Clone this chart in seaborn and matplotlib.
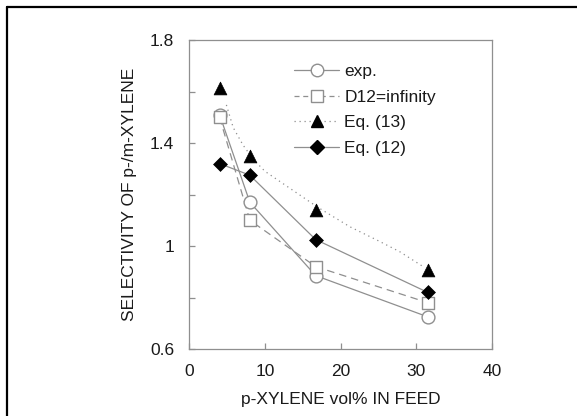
import matplotlib
matplotlib.use("Agg")
import matplotlib.pyplot as plt
from matplotlib.lines import Line2D
import seaborn as sns
import pandas as pd

# p-xylene content of the feed (vol%)
feed_pct = [4.0, 8.0, 16.7, 31.5]

# selectivity of p-/m-xylene
sel_exp = [1.51, 1.17, 0.885, 0.725]
sel_d12_inf = [1.50, 1.10, 0.92, 0.78]
sel_eq13 = [1.615, 1.35, 1.14, 0.905]
sel_eq12 = [1.32, 1.275, 1.025, 0.82]

# smooth Eq. (13) curve
eq13_curve_x = [4.9, 5.8, 7.1, 8.5, 10.0, 13.3, 17.0, 21.2, 25.0, 27.8, 30.9]
eq13_curve_y = [1.548, 1.46, 1.392, 1.335, 1.29, 1.224, 1.15, 1.075, 1.02, 0.978, 0.92]

x_ticks = [0, 10, 20, 30, 40]
y_major = [0.6, 1.0, 1.4, 1.8]
y_major_labels = ["0.6", "1", "1.4", "1.8"]
y_minor = [0.8, 1.2, 1.6]

legend_labels = ["exp.", "D12=infinity", "Eq. (13)", "Eq. (12)"]

sns.set_theme(style="white")
plt.rcParams["font.family"] = ["Liberation Sans", "DejaVu Sans"]

GREY = "#8f8f8f"
TXT = "#1a1a1a"
FS = 12.5

fig = plt.figure(figsize=(5.77, 4.16), dpi=100)
ax = fig.add_axes([189.3 / 577, 1 - 349 / 416, (492 - 189.3) / 577, (349 - 40) / 416])

df = pd.DataFrame({"x": feed_pct, "exp": sel_exp, "d12": sel_d12_inf,
                   "eq13": sel_eq13, "eq12": sel_eq12})
curve = pd.DataFrame({"x": eq13_curve_x, "y": eq13_curve_y})

# Eq. (13): dotted curve plus filled triangles
sns.lineplot(data=curve, x="x", y="y", ax=ax, color=GREY, lw=0.9,
             linestyle=(0, (1, 3)), zorder=2)
sns.scatterplot(data=df, x="x", y="eq13", ax=ax, marker="^", s=85,
                color="black", edgecolor="black", linewidth=0.5, zorder=4)

# Eq. (12)
sns.lineplot(data=df, x="x", y="eq12", ax=ax, color=GREY, lw=0.9, zorder=2)
sns.scatterplot(data=df, x="x", y="eq12", ax=ax, marker="D", s=50,
                color="black", edgecolor="black", linewidth=0.5, zorder=4)

# experiment
sns.lineplot(data=df, x="x", y="exp", ax=ax, color=GREY, lw=0.9, zorder=2)
sns.scatterplot(data=df, x="x", y="exp", ax=ax, marker="o", s=85,
                facecolor="white", edgecolor=GREY, linewidth=1.0, zorder=3)

# D12 = infinity
sns.lineplot(data=df, x="x", y="d12", ax=ax, color=GREY, lw=0.9,
             linestyle=(0, (6, 4)), zorder=2)
sns.scatterplot(data=df, x="x", y="d12", ax=ax, marker="s", s=80,
                facecolor="white", edgecolor=GREY, linewidth=1.0, zorder=3)

ax.set_xlim(0, 40)
ax.set_ylim(0.6, 1.8)
ax.set_xticks(x_ticks)
ax.set_xticklabels([str(t) for t in x_ticks])
ax.set_yticks(y_major)
ax.set_yticklabels(y_major_labels)
ax.set_yticks(y_minor, minor=True)

for s in ax.spines.values():
    s.set_color(GREY)
    s.set_linewidth(0.9)
ax.tick_params(which="both", direction="in", color=GREY, width=0.9, length=4,
               labelsize=FS, labelcolor=TXT)
ax.tick_params(axis="y", which="both", left=True, pad=11)
ax.tick_params(axis="x", which="both", bottom=True, pad=11)

ax.set_xlabel("p-XYLENE vol% IN FEED", fontsize=FS, color=TXT, labelpad=9)
ax.set_ylabel("SELECTIVITY OF p-/m-XYLENE", fontsize=FS, color=TXT, labelpad=9)

handles = [
    Line2D([], [], color=GREY, lw=0.9, marker="o", ms=9,
           mfc="white", mec=GREY, mew=1.0),
    Line2D([], [], color=GREY, lw=0.9, linestyle=(0, (4, 3)), marker="s", ms=8.5,
           mfc="white", mec=GREY, mew=1.0),
    Line2D([], [], color=GREY, lw=0.9, linestyle=(0, (1, 3)), marker="^", ms=9,
           mfc="black", mec="black"),
    Line2D([], [], color=GREY, lw=0.9, marker="D", ms=7,
           mfc="black", mec="black"),
]
ax.legend(handles, legend_labels, loc="upper left", frameon=False,
          bbox_to_anchor=(294 / 577, 1 - 64 / 416), bbox_transform=fig.transFigure,
          borderpad=0, borderaxespad=0, handlelength=2.6, handletextpad=0.3,
          labelspacing=0.6, fontsize=FS, labelcolor=TXT)

# frame lines along the left and top edges of the figure
fig.add_artist(Line2D([6.5 / 577, 6.5 / 577], [0, 1 - 6.5 / 416], color="black",
                      lw=1.6, transform=fig.transFigure))
fig.add_artist(Line2D([6.5 / 577, 1], [1 - 6.5 / 416, 1 - 6.5 / 416], color="black",
                      lw=1.6, transform=fig.transFigure))

fig.savefig("out.png", dpi=100, facecolor="white")
